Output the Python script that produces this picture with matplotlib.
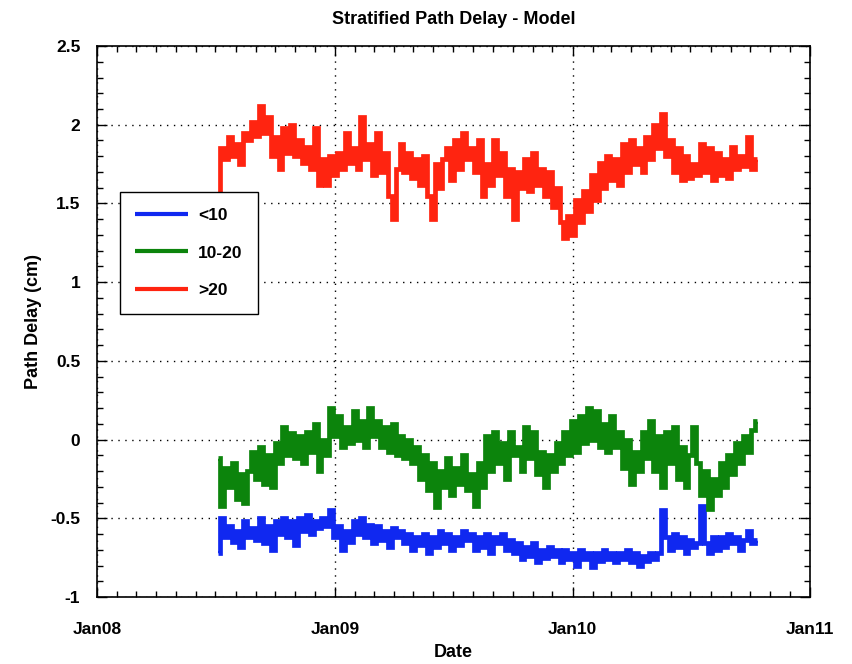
import matplotlib
matplotlib.use('Agg')
import matplotlib.pyplot as plt
import matplotlib.dates as mdates
from matplotlib.ticker import MultipleLocator
import numpy as np

plt.rcParams['font.family'] = ['Liberation Sans', 'DejaVu Sans']
plt.rcParams['font.weight'] = 'bold'

# model path delay, sampled every 6 days from 5 Jul 2008
start = np.datetime64('2008-07-05')
step_days = 6

delay_lt10 = [
    -0.72, -0.50, -0.62, -0.55, -0.65, -0.58, -0.68, -0.52, -0.62, -0.56,
    -0.64, -0.50, -0.66, -0.55, -0.70, -0.52, -0.60, -0.50, -0.62, -0.52,
    -0.67, -0.50, -0.58, -0.48, -0.60, -0.52, -0.56, -0.50, -0.55, -0.45,
    -0.62, -0.55, -0.70, -0.58, -0.65, -0.52, -0.60, -0.50, -0.62, -0.54,
    -0.66, -0.55, -0.64, -0.58, -0.68, -0.56, -0.62, -0.58, -0.66, -0.60,
    -0.70, -0.62, -0.67, -0.60, -0.72, -0.62, -0.68, -0.58, -0.66, -0.60,
    -0.70, -0.62, -0.67, -0.58, -0.64, -0.60, -0.70, -0.62, -0.68, -0.60,
    -0.72, -0.62, -0.66, -0.60, -0.70, -0.64, -0.72, -0.66, -0.76, -0.68,
    -0.74, -0.66, -0.78, -0.70, -0.75, -0.68, -0.74, -0.70, -0.78, -0.70,
    -0.76, -0.72, -0.80, -0.70, -0.76, -0.72, -0.81, -0.72, -0.77, -0.70,
    -0.76, -0.72, -0.78, -0.72, -0.76, -0.70, -0.78, -0.72, -0.80, -0.74,
    -0.77, -0.72, -0.76, -0.72, -0.45, -0.62, -0.70, -0.60, -0.68, -0.62,
    -0.72, -0.64, -0.68, -0.66, -0.42, -0.66, -0.72, -0.62, -0.70, -0.62,
    -0.68, -0.60, -0.66, -0.62, -0.70, -0.64, -0.58, -0.66, -0.64,
]

delay_10_20 = [
    -0.12, -0.42, -0.18, -0.30, -0.15, -0.38, -0.22, -0.40, -0.20, -0.08,
    -0.25, -0.05, -0.28, -0.10, -0.30, -0.02, -0.15, 0.08, -0.10, 0.04,
    -0.12, 0.02, -0.15, 0.05, -0.08, 0.10, -0.20, 0.00, -0.10, 0.20,
    0.02, 0.15, -0.05, 0.08, -0.02, 0.18, 0.00, 0.12, -0.05, 0.20,
    0.02, 0.12, -0.05, 0.08, -0.08, 0.10, -0.10, 0.02, -0.12, 0.00,
    -0.15, -0.05, -0.25, -0.10, -0.32, -0.15, -0.43, -0.20, -0.30, -0.12,
    -0.35, -0.18, -0.28, -0.10, -0.32, -0.22, -0.42, -0.15, -0.30, 0.02,
    -0.20, 0.05, -0.15, -0.02, -0.25, 0.05, -0.10, -0.05, -0.20, 0.08,
    -0.12, 0.05, -0.22, -0.08, -0.30, -0.10, -0.20, -0.02, -0.15, 0.05,
    -0.10, 0.12, -0.08, 0.15, -0.02, 0.20, 0.00, 0.18, -0.05, 0.10,
    -0.08, 0.15, -0.05, 0.05, -0.18, 0.00, -0.28, -0.08, -0.20, 0.05,
    -0.12, 0.12, -0.20, 0.02, -0.30, 0.05, -0.15, 0.08, -0.25, -0.05,
    -0.30, -0.10, 0.08, -0.15, -0.35, -0.20, -0.44, -0.25, -0.35, -0.15,
    -0.30, -0.10, -0.22, -0.02, -0.15, 0.02, -0.08, 0.06, 0.12,
]

delay_gt20 = [
    1.55, 1.85, 1.78, 1.92, 1.80, 1.88, 1.75, 1.95, 1.90, 2.02,
    1.93, 2.12, 1.95, 2.05, 1.80, 1.92, 1.72, 1.98, 1.82, 2.00,
    1.80, 1.90, 1.76, 1.86, 1.72, 1.98, 1.62, 1.78, 1.62, 1.80,
    1.68, 1.82, 1.72, 1.95, 1.76, 1.85, 1.72, 2.05, 1.78, 1.88,
    1.68, 1.95, 1.70, 1.82, 1.55, 1.40, 1.72, 1.88, 1.70, 1.82,
    1.66, 1.78, 1.62, 1.80, 1.55, 1.40, 1.75, 1.60, 1.78, 1.85,
    1.65, 1.90, 1.72, 1.95, 1.78, 1.85, 1.70, 1.90, 1.55, 1.75,
    1.62, 1.90, 1.68, 1.82, 1.55, 1.72, 1.40, 1.70, 1.60, 1.78,
    1.58, 1.82, 1.62, 1.72, 1.55, 1.70, 1.48, 1.60, 1.38, 1.28,
    1.42, 1.30, 1.52, 1.38, 1.58, 1.45, 1.68, 1.52, 1.76, 1.60,
    1.80, 1.65, 1.78, 1.62, 1.88, 1.70, 1.90, 1.75, 1.85, 1.70,
    1.92, 1.78, 2.00, 1.85, 2.07, 1.80, 1.90, 1.70, 1.85, 1.65,
    1.80, 1.66, 1.75, 1.68, 1.88, 1.70, 1.85, 1.65, 1.82, 1.68,
    1.78, 1.66, 1.86, 1.72, 1.80, 1.74, 1.92, 1.72, 1.78,
]

labels = ['<10', '10-20', '>20']
colours = ['#1028f0', '#0c840c', '#ff2410']

dates = start + np.arange(len(delay_gt20)) * np.timedelta64(step_days, 'D')

fig = plt.figure(figsize=(8.53, 6.64), dpi=100)
ax = fig.add_axes([0.1137, 0.1009, 0.836, 0.8298])

for series, lab, col in zip([delay_lt10, delay_10_20, delay_gt20], labels, colours):
    ax.plot(dates, series, c=col, lw=3.4, drawstyle='steps-mid',
            solid_joinstyle='miter', solid_capstyle='butt', label=lab)

ax.set_xlim(np.datetime64('2008-01-01'), np.datetime64('2011-01-01'))
ax.set_ylim(-1, 2.5)
ax.yaxis.set_minor_locator(MultipleLocator(0.1))
ax.xaxis.set_major_locator(mdates.YearLocator())
ax.xaxis.set_minor_locator(mdates.MonthLocator())
ax.xaxis.set_major_formatter(mdates.DateFormatter('Jan%y'))
ax.set_yticks(np.arange(-1, 2.51, 0.5))
ax.set_yticklabels(['-1', '-0.5', '0', '0.5', '1', '1.5', '2', '2.5'])

ax.tick_params(which='both', direction='in', top=True, right=True, labelsize=12.5)
ax.tick_params(axis='x', pad=18)
ax.tick_params(axis='y', pad=12)
ax.tick_params(which='major', length=7, width=1)
ax.tick_params(which='minor', length=4, width=1)
ax.grid(True, which='major', ls=(0, (1, 4)), c='k', lw=1.0)
for sp in ax.spines.values():
    sp.set_linewidth(1.2)

ax.set_title('Stratified Path Delay - Model', fontsize=13, fontweight='bold', pad=16)
ax.set_xlabel('Date', fontsize=13, fontweight='bold', labelpad=5)
ax.set_ylabel('Path Delay (cm)', fontsize=13, fontweight='bold', labelpad=6)

leg = ax.legend(loc='upper left', bbox_to_anchor=(0.032, 0.735), borderaxespad=0,
                fontsize=12.5, fancybox=False, framealpha=1, edgecolor='k',
                handlelength=3.0, labelspacing=1.3, borderpad=0.9, handletextpad=0.6)
leg.get_frame().set_linewidth(1.0)
for line in leg.get_lines():
    line.set_linewidth(3)

fig.savefig('out.png', dpi=100)
